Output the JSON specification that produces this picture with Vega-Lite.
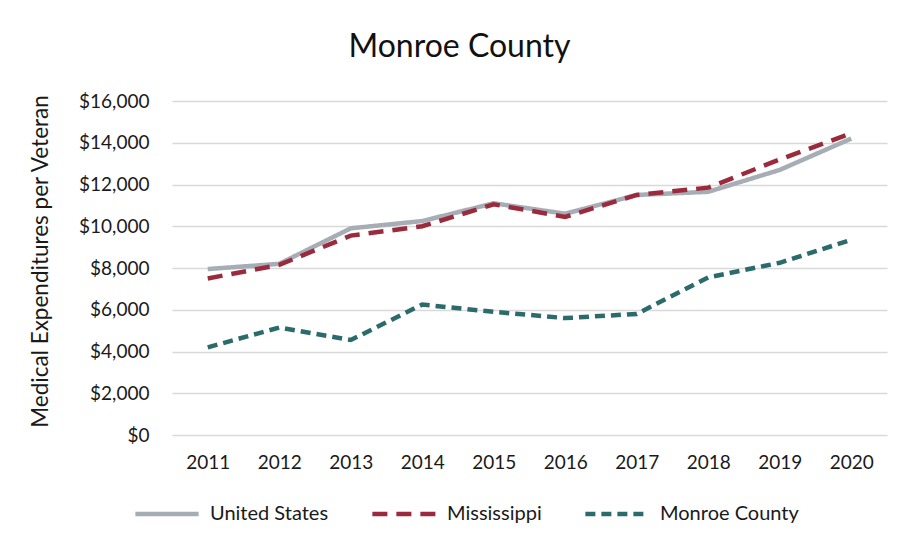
{
  "$schema": "https://vega.github.io/schema/vega-lite/v6.json",
  "width": 715,
  "height": 334,
  "autosize": {"type": "none"},
  "padding": {"left": 172, "top": 101, "right": 21, "bottom": 115},
  "background": "white",
  "title": {
    "text": "Monroe County",
    "font": "Lato",
    "fontSize": 32,
    "fontWeight": "normal",
    "color": "#111111",
    "anchor": "middle",
    "frame": "group",
    "dx": -70,
    "baseline": "alphabetic",
    "offset": 3
  },
  "config": {
    "view": {"stroke": null},
    "font": "Lato"
  },
  "data": {
    "values": [
      {"year": "2011", "series": "United States", "value": 7950},
      {"year": "2012", "series": "United States", "value": 8200},
      {"year": "2013", "series": "United States", "value": 9900},
      {"year": "2014", "series": "United States", "value": 10250},
      {"year": "2015", "series": "United States", "value": 11100},
      {"year": "2016", "series": "United States", "value": 10600},
      {"year": "2017", "series": "United States", "value": 11500},
      {"year": "2018", "series": "United States", "value": 11650},
      {"year": "2019", "series": "United States", "value": 12700},
      {"year": "2020", "series": "United States", "value": 14200},
      {"year": "2011", "series": "Mississippi", "value": 7500},
      {"year": "2012", "series": "Mississippi", "value": 8150},
      {"year": "2013", "series": "Mississippi", "value": 9550},
      {"year": "2014", "series": "Mississippi", "value": 10000},
      {"year": "2015", "series": "Mississippi", "value": 11050},
      {"year": "2016", "series": "Mississippi", "value": 10450},
      {"year": "2017", "series": "Mississippi", "value": 11500},
      {"year": "2018", "series": "Mississippi", "value": 11850},
      {"year": "2019", "series": "Mississippi", "value": 13200},
      {"year": "2020", "series": "Mississippi", "value": 14450},
      {"year": "2011", "series": "Monroe County", "value": 4200},
      {"year": "2012", "series": "Monroe County", "value": 5150},
      {"year": "2013", "series": "Monroe County", "value": 4550},
      {"year": "2014", "series": "Monroe County", "value": 6250},
      {"year": "2015", "series": "Monroe County", "value": 5900},
      {"year": "2016", "series": "Monroe County", "value": 5600},
      {"year": "2017", "series": "Monroe County", "value": 5800},
      {"year": "2018", "series": "Monroe County", "value": 7550},
      {"year": "2019", "series": "Monroe County", "value": 8250},
      {"year": "2020", "series": "Monroe County", "value": 9350}
    ]
  },
  "mark": {"type": "line", "strokeWidth": 4.5},
  "encoding": {
    "x": {
      "field": "year",
      "type": "ordinal",
      "scale": {"type": "point", "padding": 0.5},
      "axis": {
        "title": null,
        "labelAngle": 0,
        "domain": false,
        "ticks": false,
        "grid": false,
        "labelFont": "Lato",
        "labelFontSize": 19,
        "labelColor": "#1a1a1a",
        "labelPadding": 18
      }
    },
    "y": {
      "field": "value",
      "type": "quantitative",
      "scale": {"domain": [0, 16000], "nice": false},
      "axis": {
        "values": [0, 2000, 4000, 6000, 8000, 10000, 12000, 14000, 16000],
        "format": "$,.0f",
        "title": "Medical Expenditures per Veteran",
        "titleFont": "Lato",
        "titleFontSize": 22.5,
        "titleFontWeight": "normal",
        "titleColor": "#1a1a1a",
        "titleAngle": -90,
        "titleX": -132,
        "titleY": 160,
        "titleAlign": "center",
        "titleBaseline": "middle",
        "domain": false,
        "ticks": false,
        "labelFont": "Lato",
        "labelFontSize": 19,
        "labelColor": "#1a1a1a",
        "labelPadding": 23,
        "gridColor": "#D9D9D9",
        "gridWidth": 1.5
      }
    },
    "color": {
      "field": "series",
      "type": "nominal",
      "scale": {
        "domain": ["United States", "Mississippi", "Monroe County"],
        "range": ["#A6ADB5", "#9C2A3D", "#2C6B6B"]
      },
      "legend": {
        "title": null,
        "orient": "none",
        "direction": "horizontal",
        "legendX": -39,
        "legendY": 379,
        "symbolType": "stroke",
        "symbolSize": 4000,
        "symbolStrokeWidth": 4.5,
        "labelFont": "Lato",
        "labelFontSize": 20,
        "labelColor": "#1a1a1a",
        "labelOffset": 9,
        "columnPadding": 34,
        "labelLimit": 300
      }
    },
    "strokeDash": {
      "field": "series",
      "type": "nominal",
      "scale": {
        "domain": ["United States", "Mississippi", "Monroe County"],
        "range": [[1, 0], [15, 9], [10, 6]]
      },
      "legend": null
    }
  }
}
